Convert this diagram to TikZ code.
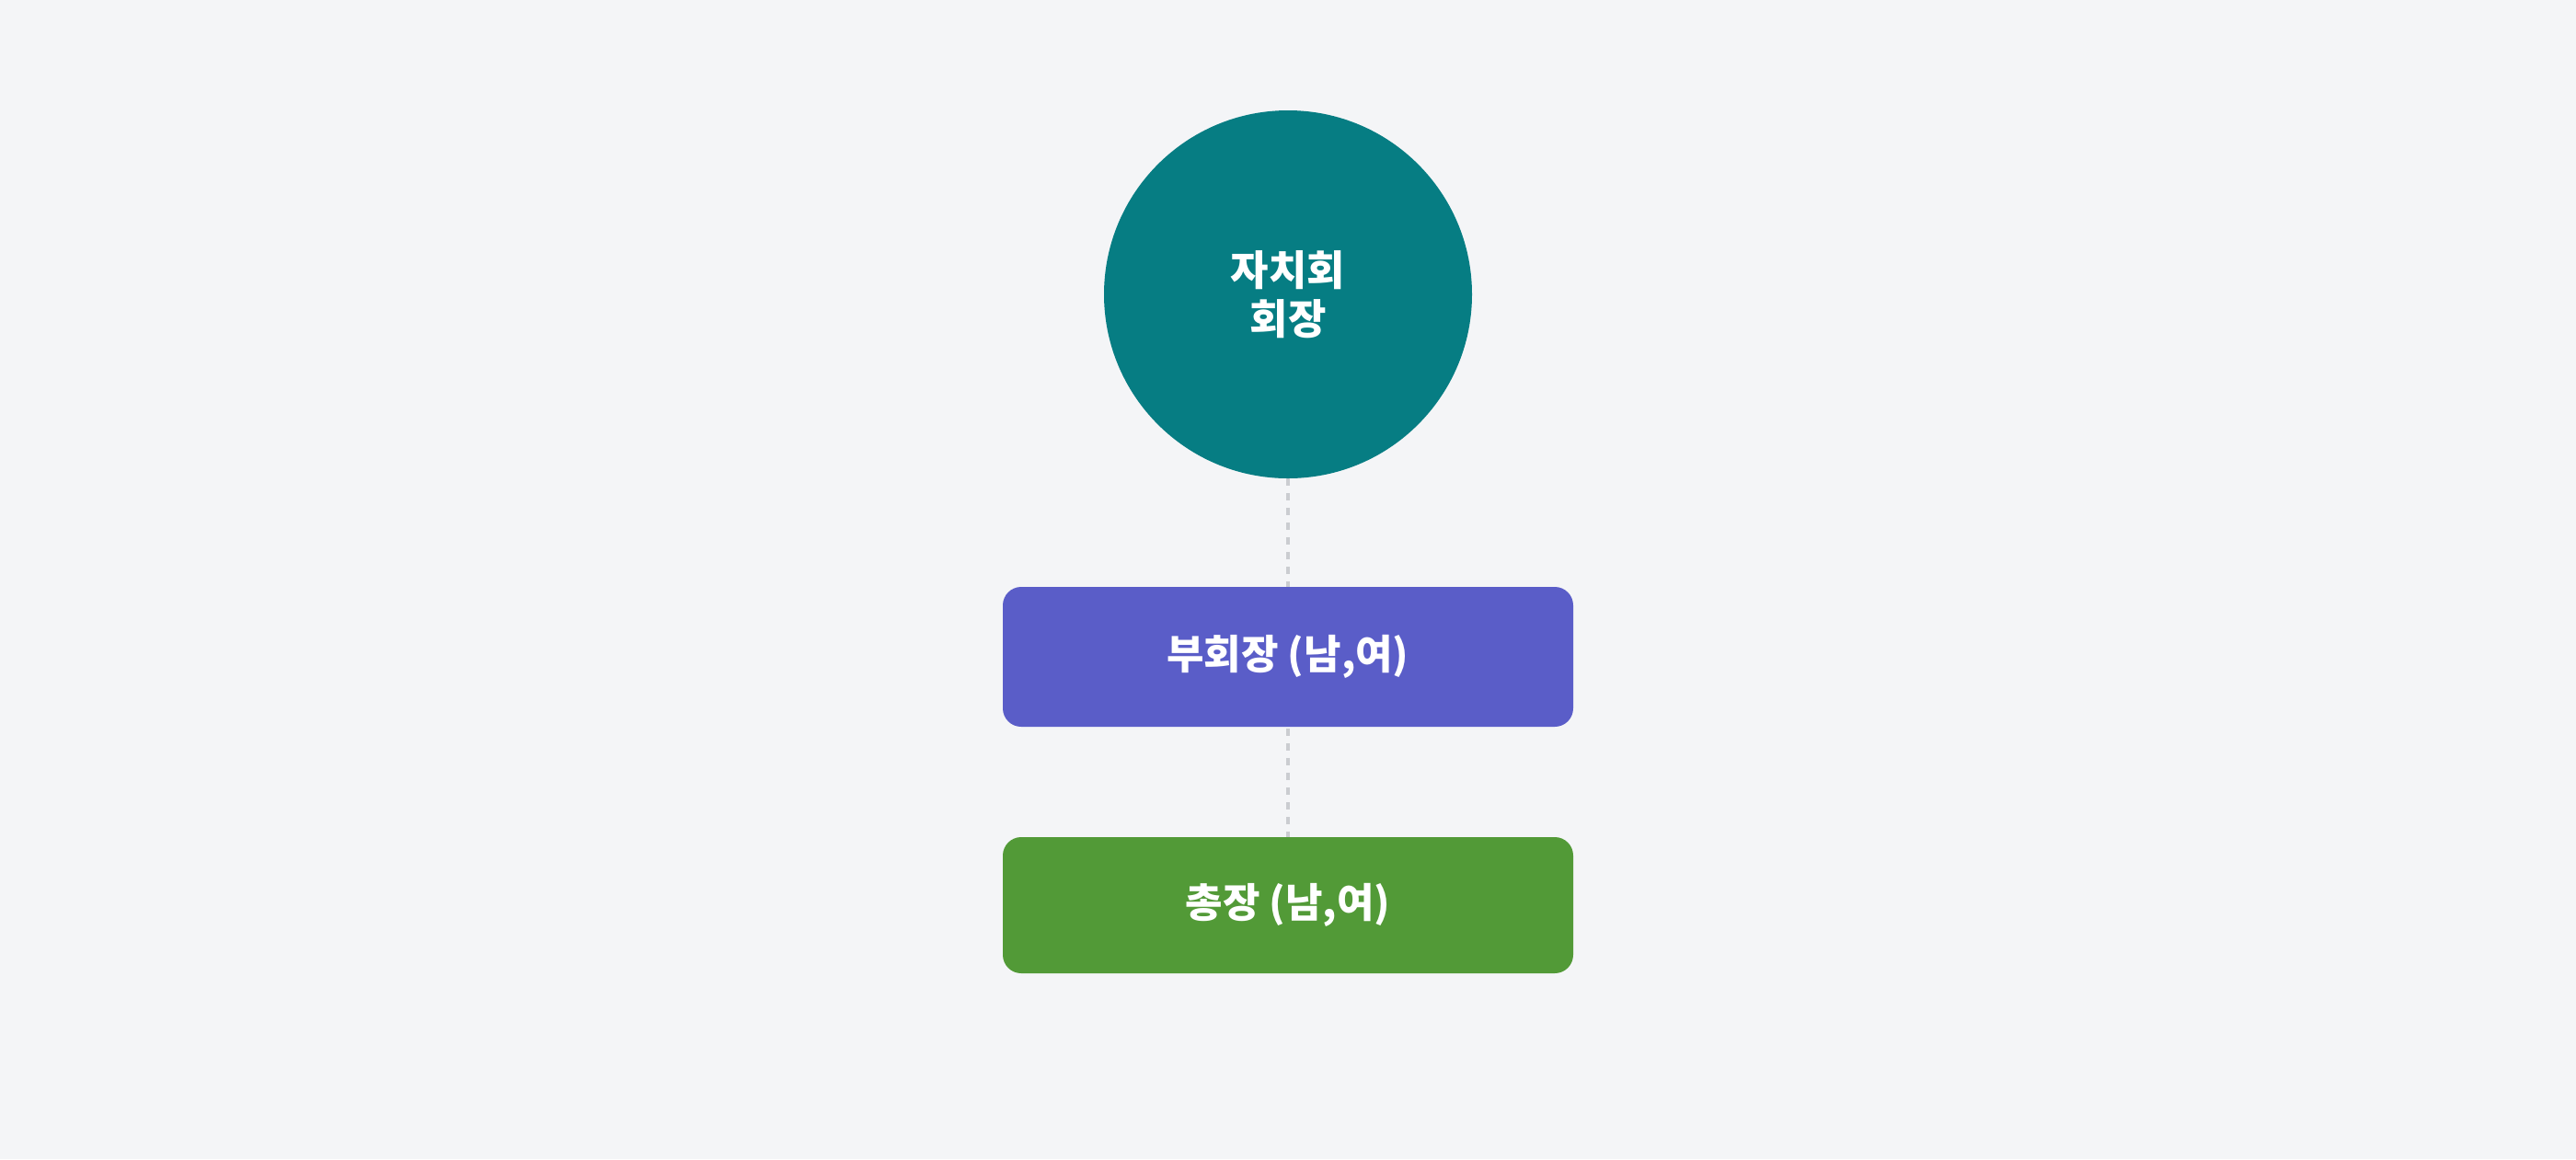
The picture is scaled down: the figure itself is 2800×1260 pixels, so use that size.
\documentclass[tikz,border=0pt]{standalone}
\usepackage{fontspec}
\newfontfamily\kr{Noto Sans CJK KR}
\definecolor{bgc}{HTML}{F4F5F7}
\definecolor{tealc}{HTML}{067D83}
\definecolor{purplec}{HTML}{5A5DC8}
\definecolor{greenc}{HTML}{529A37}
\definecolor{dashc}{HTML}{CBCDD1}
\pgfdeclarelayer{bg}
\pgfdeclarelayer{edges}
\pgfsetlayers{bg,edges,main}
\tikzset{
  roleText/.style={text=white, font=\kr\bfseries\fontsize{22pt}{26pt}\selectfont, align=center, inner sep=0pt},
  headCircle/.style={circle, fill=tealc, minimum size=200pt, roleText, font=\kr\bfseries\fontsize{22.5pt}{26.5pt}\selectfont},
  roleBox/.style={rectangle, rounded corners=10pt, minimum width=310pt, roleText},
  linkLine/.style={draw=dashc, line width=2pt, dash pattern=on 4pt off 4pt}
}
\begin{document}
\begin{tikzpicture}[x=0.5pt, y=-0.5pt]
\begin{pgfonlayer}{bg}
\fill[bgc] (0,0) rectangle (2800,1260);
\end{pgfonlayer}
\useasboundingbox (0,0) rectangle (2800,1260);
\node[headCircle] (head) at (1400,320) {자치회\\회장};
\node[roleBox, fill=purplec, minimum height=76pt] (vice) at (1400,714) {부회장 (남,여)};
\node[roleBox, fill=greenc, minimum height=74pt] (gen) at (1400,984) {총장 (남,여)};
\begin{pgfonlayer}{edges}
\draw[linkLine] (head.south) -- (gen.north);
\end{pgfonlayer}
\end{tikzpicture}
\end{document}
